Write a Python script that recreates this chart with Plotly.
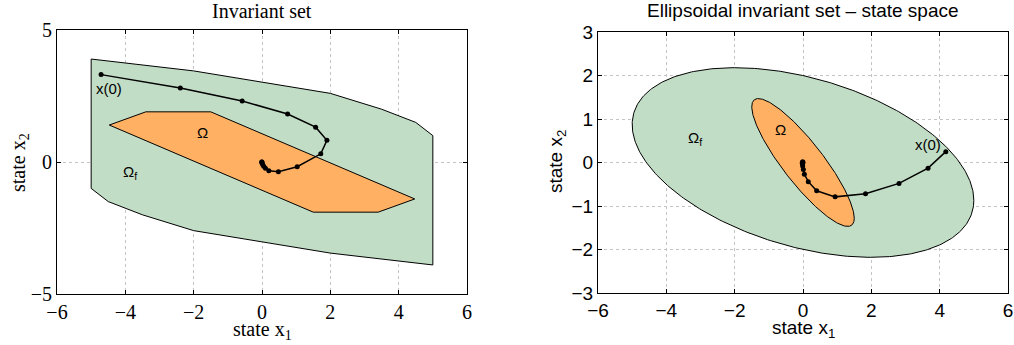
import numpy as np
import plotly.graph_objects as go

# ---- left panel: polytopic sets ----
omega_f_x = [-5.0, -2.0, 2.0, 3.5, 4.5, 5.0, 5.0, 2.0, -2.0, -3.5, -4.5, -5.0]
omega_f_y = [3.9, 3.45, 2.6, 2.0, 1.5, 1.0, -3.9, -3.45, -2.6, -2.0, -1.5, -1.0]

omega_x = [-4.47, -3.4, -1.5, 4.47, 3.4, 1.5]
omega_y = [1.4, 1.9, 1.9, -1.4, -1.9, -1.9]

traj1_x = [-4.71, -2.39, -0.58, 0.75, 1.57, 1.90, 1.72, 1.03, 0.48, 0.20,
           0.10, 0.05, 0.02, 0.0, -0.01, 0.0]
traj1_y = [3.31, 2.80, 2.31, 1.82, 1.32, 0.82, 0.31, -0.18, -0.37, -0.33,
           -0.24, -0.16, -0.09, -0.04, 0.0, 0.0]

# ---- right panel: ellipsoidal sets (shape matrices Q, set = {x : x' Q^-1 x <= 1}) ----
Q_f = [[25.0, -4.35], [-4.35, 4.75]]
Q_omega = [[2.25, -1.92], [-1.92, 2.16]]

traj2_x = [4.18, 3.66, 2.81, 1.83, 0.94, 0.40, 0.155, 0.04,
           0.01, -0.01, -0.02, -0.02, -0.01, 0.0]
traj2_y = [0.25, -0.13, -0.48, -0.72, -0.79, -0.65, -0.44, -0.27,
           -0.16, -0.08, -0.03, 0.0, 0.02, 0.0]

x_ticks = [-6, -4, -2, 0, 2, 4, 6]
y1_ticks = [-5, 0, 5]
y2_ticks = [-3, -2, -1, 0, 1, 2, 3]

GREEN = "#c2ddc5"
ORANGE = "#ffb062"
SERIF = "Liberation Serif, Times New Roman, serif"
SANS = "Liberation Sans, Arial, Helvetica, sans-serif"
FS_LEFT = 20
FS_RIGHT = 19


def ellipse(Q, n=400):
    L = np.linalg.cholesky(np.array(Q))
    t = np.linspace(0, 2 * np.pi, n)
    pts = L @ np.vstack([np.cos(t), np.sin(t)])
    return pts[0], pts[1]


fig = go.Figure()

# left panel
fig.add_trace(go.Scatter(x=omega_f_x + omega_f_x[:1], y=omega_f_y + omega_f_y[:1],
                         fill="toself", fillcolor=GREEN, mode="lines",
                         line=dict(color="black", width=1), xaxis="x", yaxis="y",
                         hoverinfo="skip"))
fig.add_trace(go.Scatter(x=omega_x + omega_x[:1], y=omega_y + omega_y[:1],
                         fill="toself", fillcolor=ORANGE, mode="lines",
                         line=dict(color="black", width=1), xaxis="x", yaxis="y",
                         hoverinfo="skip"))
fig.add_trace(go.Scatter(x=traj1_x, y=traj1_y, mode="lines+markers",
                         line=dict(color="black", width=1.5),
                         marker=dict(color="black", size=5), xaxis="x", yaxis="y"))

# right panel
ex, ey = ellipse(Q_f)
fig.add_trace(go.Scatter(x=ex, y=ey, fill="toself", fillcolor=GREEN, mode="lines",
                         line=dict(color="black", width=1), xaxis="x2", yaxis="y2",
                         hoverinfo="skip"))
ox, oy = ellipse(Q_omega)
fig.add_trace(go.Scatter(x=ox, y=oy, fill="toself", fillcolor=ORANGE, mode="lines",
                         line=dict(color="black", width=1), xaxis="x2", yaxis="y2",
                         hoverinfo="skip"))
fig.add_trace(go.Scatter(x=traj2_x, y=traj2_y, mode="lines+markers",
                         line=dict(color="black", width=1.5),
                         marker=dict(color="black", size=5), xaxis="x2", yaxis="y2"))

W, H = 1014, 345


def px_x(a, b):
    return [a / W, b / W]


def px_y(top, bottom):
    return [1 - bottom / H, 1 - top / H]


axis_common = dict(showline=True, linecolor="black", linewidth=1, mirror="ticks",
                   ticks="inside", ticklen=4, tickcolor="black", automargin=False,
                   showgrid=True, gridcolor="#c4c4c4", griddash="dot", gridwidth=1,
                   zeroline=False)

fig.update_layout(
    template="none",
    width=W, height=H, margin=dict(l=0, r=0, t=0, b=0, pad=0), autosize=False,
    paper_bgcolor="white", plot_bgcolor="white", showlegend=False,
    xaxis=dict(axis_common, domain=px_x(57, 467), range=[-6, 6], tickvals=x_ticks,
               anchor="y", tickfont=dict(family=SERIF, size=FS_LEFT, color="black")),
    yaxis=dict(axis_common, domain=px_y(30, 294), range=[-5, 5], tickvals=y1_ticks,
               anchor="x", tickfont=dict(family=SERIF, size=FS_LEFT, color="black")),
    xaxis2=dict(axis_common, domain=px_x(598, 1008), range=[-6, 6], tickvals=x_ticks,
                anchor="y2", tickfont=dict(family=SANS, size=FS_RIGHT, color="black")),
    yaxis2=dict(axis_common, domain=px_y(32, 293), range=[-3, 3], tickvals=y2_ticks,
                anchor="x2", tickfont=dict(family=SANS, size=FS_RIGHT, color="black")),
)

ann = []
centered = dict(showarrow=False, xanchor="center", yanchor="middle")
# panel titles and axis labels
ann.append(dict(centered, text="Invariant set", x=262 / W, y=1 - 11 / H, xref="paper",
                yref="paper", font=dict(family=SERIF, size=FS_LEFT, color="black")))
ann.append(dict(centered, text="state x<sub>1</sub>", x=262 / W, y=1 - 330 / H, xref="paper",
                yref="paper", font=dict(family=SERIF, size=FS_LEFT, color="black")))
ann.append(dict(centered, text="state x<sub>2</sub>", x=19 / W, y=1 - 163 / H, xref="paper",
                yref="paper", textangle=-90, font=dict(family=SERIF, size=FS_LEFT, color="black")))
ann.append(dict(centered, text="Ellipsoidal invariant set \u2013 state space", x=803 / W,
                y=1 - 11 / H, xref="paper", yref="paper",
                font=dict(family=SANS, size=FS_RIGHT, color="black")))
ann.append(dict(centered, text="state x<sub>1</sub>", x=803 / W, y=1 - 329 / H, xref="paper",
                yref="paper", font=dict(family=SANS, size=FS_RIGHT, color="black")))
ann.append(dict(centered, text="state x<sub>2</sub>", x=557 / W, y=1 - 162 / H, xref="paper",
                yref="paper", textangle=-90, font=dict(family=SANS, size=FS_RIGHT, color="black")))

# set labels
lab = dict(centered, font=dict(family=SANS, size=15, color="black"))
ann.append(dict(lab, text="x(0)", x=-4.48, y=2.77, xref="x", yref="y"))
ann.append(dict(lab, text="\u03a9", x=-1.74, y=1.11, xref="x", yref="y"))
ann.append(dict(lab, text="\u03a9<sub>f</sub>", x=-3.85, y=-0.4, xref="x", yref="y"))
ann.append(dict(lab, text="x(0)", x=3.67, y=0.41, xref="x2", yref="y2"))
ann.append(dict(lab, text="\u03a9", x=-0.66, y=0.75, xref="x2", yref="y2"))
ann.append(dict(lab, text="\u03a9<sub>f</sub>", x=-3.15, y=0.55, xref="x2", yref="y2"))

fig.update_layout(annotations=ann)

fig.write_html("out.html")
